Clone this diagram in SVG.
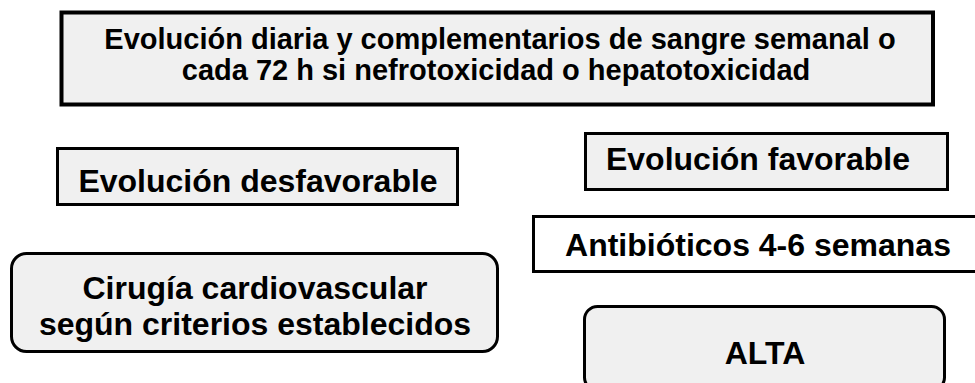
<svg xmlns="http://www.w3.org/2000/svg" width="975" height="383" viewBox="0 0 975 383">
<style>
.box{fill:#f0f0f0;stroke:#000;stroke-width:3}
.t{font-family:"Liberation Sans",Arial,sans-serif;font-weight:bold;fill:#000;text-anchor:middle;font-size:32px}
</style>
<rect width="975" height="383" fill="#fff"/>
<g id="connectors"/>
<g id="n-evolucion-diaria">
<rect class="box" x="61.5" y="12.5" width="871.5" height="92" style="stroke-width:4"/>
<text class="t" x="500" y="49" style="font-size:29px">Evolución diaria y complementarios de sangre semanal o</text>
<text class="t" x="496" y="80" style="font-size:29px">cada 72 h si nefrotoxicidad o hepatotoxicidad</text>
</g>
<g id="n-desfavorable">
<rect class="box" x="57.5" y="148.5" width="400" height="56"/>
<text class="t" x="258" y="192">Evolución desfavorable</text>
</g>
<g id="n-favorable">
<rect class="box" x="585.5" y="133.5" width="362" height="56"/>
<text class="t" x="758" y="170">Evolución favorable</text>
</g>
<g id="n-antibioticos">
<rect class="box" x="533.5" y="216.5" width="460" height="55" style="fill:#fff"/>
<text class="t" x="758" y="256">Antibióticos 4-6 semanas</text>
</g>
<g id="n-cirugia">
<rect class="box" x="11.5" y="253.5" width="486" height="98" rx="15"/>
<text class="t" x="255" y="299">Cirugía cardiovascular</text>
<text class="t" x="255" y="335">según criterios establecidos</text>
</g>
<g id="n-alta">
<rect class="box" x="584.5" y="306.5" width="360" height="84" rx="13"/>
<text class="t" x="765" y="364">ALTA</text>
</g>
</svg>
